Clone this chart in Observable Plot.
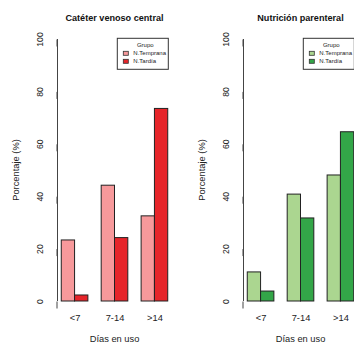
<!DOCTYPE html>
<html>
<head>
<meta charset="utf-8">
<script src="https://cdn.jsdelivr.net/npm/d3@7"></script>
<script src="https://cdn.jsdelivr.net/npm/@observablehq/plot@0.6"></script>
<style>
  html, body { margin: 0; padding: 0; background: #fff; }
  #wrap { position: relative; width: 354px; height: 344px; overflow: hidden; background: #fff; }
  .panel { position: absolute; top: 0; width: 186px; height: 344px; }
  .panel svg { max-width: none !important; width: 186px; height: 344px; display: block; }
  svg { font-family: "Liberation Sans", Arial, Helvetica, sans-serif; }
</style>
</head>
<body>
<div id="wrap"></div>
<script>
// ---- data ----
const categories = ["<7", "7-14", ">14"];
const groups = ["N.Temprana", "N.Tardía"];
const cvcTemprana = [23.3, 44.2, 32.5];
const cvcTardia = [2.3, 24.2, 73.5];
const npTemprana = [11.1, 40.8, 48.1];
const npTardia = [3.8, 31.7, 64.6];
const yTicks = [0, 20, 40, 60, 80, 100];
const titles = ["Catéter venoso central", "Nutrición parenteral"];
const yLabel = "Porcentaje (%)";
const xLabel = "Días en uso";
const legendTitle = "Grupo";
const redColors = ["#F7999B", "#E6252A"];
const greenColors = ["#ABD690", "#33A648"];

const FONT = '"Liberation Sans", Arial, Helvetica, sans-serif';

function panel(title, series, colors, left) {
  // R barplot(beside=TRUE) layout: each group preceded by 1 unit space
  const data = [];
  categories.forEach((c, i) => {
    series.forEach((vals, j) => {
      const x1 = 1 + 3 * i + j;
      data.push({cat: c, grupo: groups[j], value: vals[i], x1, x2: x1 + 1, color: colors[j]});
    });
  });
  const xmin = 1, xmax = 3 * categories.length;
  const pad = 0.04 * (xmax - xmin);
  const xDomain = [xmin - pad, xmax + pad];
  const centers = categories.map((c, i) => 2 + 3 * i);

  const chart = Plot.plot({
    width: 186, height: 344,
    marginLeft: 57, marginRight: 14, marginTop: 39, marginBottom: 43,
    style: {fontFamily: FONT, background: "transparent"},
    x: {domain: xDomain},
    y: {domain: [0, 100]},
    marks: [
      Plot.rect(data, {x1: "x1", x2: "x2", y1: 0, y2: "value", fill: "color", stroke: "#222", strokeWidth: 1}),
      Plot.ruleX([xDomain[0]], {y1: yTicks[0], y2: yTicks[yTicks.length - 1], stroke: "#444"}),
      Plot.axisY({ticks: yTicks, tickSize: 7, tickPadding: 10, rotate: -90, textAnchor: "middle",
                  fontSize: 8.6, stroke: "#444", fill: "#222", label: null}),
      Plot.axisX({ticks: centers, tickFormat: d => categories[(d - 2) / 3], tickSize: 0,
                  tickPadding: 13, fontSize: 9.3, fill: "#222", label: null})
    ]
  });

  const svg = d3.select(chart);
  const xs = chart.scale("x"), ys = chart.scale("y");
  const px0 = xs.range[0], px1 = xs.range[1];
  const cx = (px0 + px1) / 2;
  const py1 = ys.apply(100), py0 = ys.apply(0);

  svg.append("text").attr("x", cx).attr("y", 18).attr("dy", "0.35em")
    .attr("text-anchor", "middle").attr("font-weight", "bold").attr("font-size", 9.1)
    .attr("fill", "#111").text(title);
  svg.append("text").attr("transform", `translate(16,${(py0 + py1) / 2}) rotate(-90)`)
    .attr("dy", "0.35em").attr("text-anchor", "middle").attr("font-size", 9.3)
    .attr("fill", "#222").text(yLabel);
  svg.append("text").attr("x", cx).attr("y", 338.7).attr("dy", "0.35em")
    .attr("text-anchor", "middle").attr("font-size", 9.3).attr("fill", "#222").text(xLabel);

  // legend (topright)
  const bx = px1 - 54.7, by = py1 - 0.7, bw = 51, bh = 31;
  const lg = svg.append("g");
  lg.append("rect").attr("x", bx).attr("y", by).attr("width", bw).attr("height", bh)
    .attr("fill", "#fff").attr("stroke", "#333").attr("stroke-width", 1);
  lg.append("text").attr("x", bx + 28).attr("y", by + 6.4).attr("dy", "0.35em")
    .attr("text-anchor", "middle").attr("font-size", 6).attr("fill", "#222").text(legendTitle);
  groups.forEach((g, j) => {
    const yy = by + 15 + j * 8;
    lg.append("rect").attr("x", bx + 6).attr("y", yy - 2).attr("width", 5).attr("height", 4)
      .attr("fill", colors[j]).attr("stroke", "#333").attr("stroke-width", 0.8);
    lg.append("text").attr("x", bx + 16).attr("y", yy).attr("dy", "0.35em")
      .attr("text-anchor", "start").attr("font-size", 6).attr("fill", "#222").text(g);
  });

  const div = document.createElement("div");
  div.className = "panel";
  div.style.left = left + "px";
  div.appendChild(chart);
  document.getElementById("wrap").appendChild(div);
}

panel(titles[0], [cvcTemprana, cvcTardia], redColors, 0);
panel(titles[1], [npTemprana, npTardia], greenColors, 185.6);
</script>
</body>
</html>
